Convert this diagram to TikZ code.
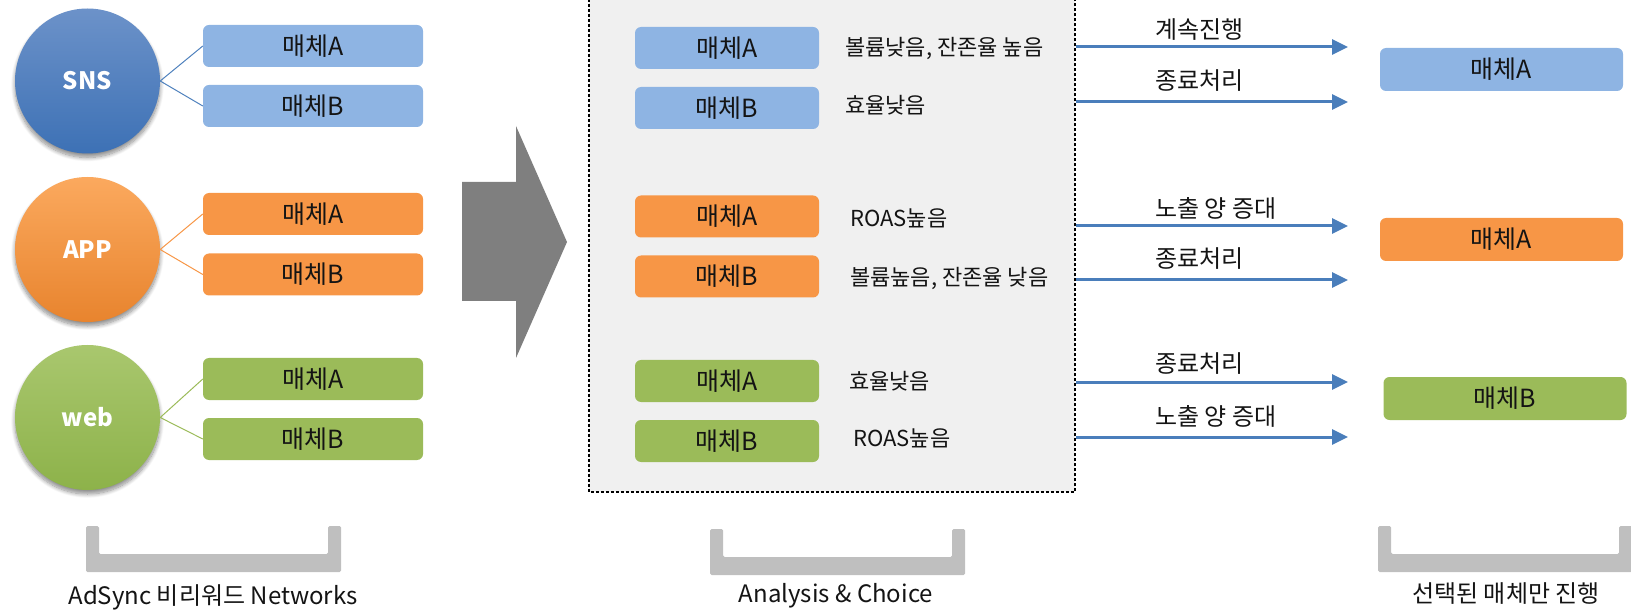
\documentclass[tikz,border=0pt]{standalone}
\usepackage{fontspec}
\setmainfont{Noto Sans CJK KR}
\usetikzlibrary{shadows.blur, arrows.meta}
\definecolor{snsline}{HTML}{4F81BD}
\definecolor{snsbox}{HTML}{8EB4E3}
\definecolor{snstop}{HTML}{6C92C9}
\definecolor{snsbot}{HTML}{3D71B5}
\definecolor{appbox}{HTML}{F79646}
\definecolor{apptop}{HTML}{FBA95E}
\definecolor{appbot}{HTML}{E8842E}
\definecolor{webbox}{HTML}{9BBB59}
\definecolor{webtop}{HTML}{A9C76E}
\definecolor{webbot}{HTML}{8DB24A}
\definecolor{panel}{HTML}{F0F0F0}
\definecolor{bracket}{HTML}{BFBFBF}
\definecolor{bigarrow}{HTML}{7F7F7F}
\definecolor{flow}{HTML}{4A7EBB}
\begin{document}
\begin{tikzpicture}[x=1pt,y=-1pt,
  txt/.style={font=\fontsize{22}{26}\selectfont, text=black!92, inner sep=0pt},
  atxt/.style={font=\fontsize{24}{28}\selectfont, text=black!92, inner sep=0pt},
  box/.style={rounded corners=6pt, minimum height=42pt, inner sep=0pt, font=\fontsize{25}{29}\selectfont, text=black!92},
  lbox/.style={box, minimum width=220pt},
  mbox/.style={box, minimum width=184pt},
  rbox/.style={box, minimum width=243pt, minimum height=43pt},
  circ/.style={circle, minimum size=145pt, inner sep=0pt, font=\bfseries\fontsize{24}{28}\selectfont, text=white,
    blur shadow={shadow xshift=0pt, shadow yshift=-4pt, shadow blur radius=4pt, shadow blur steps=10, shadow opacity=45}},
  lbl/.style={font=\fontsize{24}{28}\selectfont, text=black!92, inner sep=0pt},
  flowarrow/.style={draw=flow, line width=3pt, -{Triangle[length=16pt,width=15pt]}},
  brk/.style={fill=bracket, rounded corners=1.5pt}
]
\useasboundingbox (0,0) rectangle (1631,612);

% circles
\node[circ, top color=snstop, bottom color=snsbot] (sns) at (87.5,81) {SNS};
\node[circ, top color=apptop, bottom color=appbot] (app) at (87.5,249.5) {APP};
\node[circ, top color=webtop, bottom color=webbot] (web) at (87.5,417.5) {web};

% left boxes
\node[lbox, fill=snsbox] (snsA) at (313,46) {매체A};
\node[lbox, fill=snsbox] (snsB) at (313,106) {매체B};
\node[lbox, fill=appbox] (appA) at (313,214) {매체A};
\node[lbox, fill=appbox] (appB) at (313,274.5) {매체B};
\node[lbox, fill=webbox] (webA) at (313,379) {매체A};
\node[lbox, fill=webbox] (webB) at (313,439) {매체B};

\draw[snsline, line width=1pt] (snsA.west) -- (sns.east) -- (snsB.west);
\draw[appbox, line width=1pt] (appA.west) -- (app.east) -- (appB.west);
\draw[webbox, line width=1pt] (webA.west) -- (web.east) -- (webB.west);

% big arrow
\fill[bigarrow] (462,182) -- (516,182) -- (516,126) -- (567,242) -- (516,358) -- (516,301) -- (462,301) -- cycle;

% panel
\draw[fill=panel, line width=2.6pt, dash pattern=on 2.6pt off 2.4pt] (589,-6) rectangle (1075,492);

% middle boxes
\node[mbox, fill=snsbox] (mA1) at (727,48) {매체A};
\node[mbox, fill=snsbox] (mB1) at (727,108) {매체B};
\node[mbox, fill=appbox] (mA2) at (727,216.5) {매체A};
\node[mbox, fill=appbox] (mB2) at (727,276.5) {매체B};
\node[mbox, fill=webbox] (mA3) at (727,381) {매체A};
\node[mbox, fill=webbox] (mB3) at (727,441) {매체B};

\node[txt, anchor=west] (t1) at (845,48) {볼륨낮음, 잔존율 높음};
\node[txt, anchor=west] (t2) at (845,105) {효율낮음};
\node[txt, anchor=west] (t3) at (850,218) {ROAS높음};
\node[txt, anchor=west] (t4) at (850,278) {볼륨높음, 잔존율 낮음};
\node[txt, anchor=west] (t5) at (849,381) {효율낮음};
\node[txt, anchor=west] (t6) at (853,438) {ROAS높음};

% arrows
\foreach \i/\y in {1/47,2/102,3/226,4/280,5/382,6/437}{
  \coordinate (s\i) at (1076,\y);
  \coordinate (e\i) at (1348,\y);
}
\draw[flowarrow] (s1) -- (e1);
\draw[flowarrow] (s2) -- (e2);
\draw[flowarrow] (s3) -- (e3);
\draw[flowarrow] (s4) -- (e4);
\draw[flowarrow] (s5) -- (e5);
\draw[flowarrow] (s6) -- (e6);

\node[atxt, anchor=west] (a1) at (1155,30) {계속진행};
\node[atxt, anchor=west] (a2) at (1155,81) {종료처리};
\node[atxt, anchor=west] (a3) at (1155,208) {노출 양 증대};
\node[atxt, anchor=west] (a4) at (1155,259) {종료처리};
\node[atxt, anchor=west] (a5) at (1155,364) {종료처리};
\node[atxt, anchor=west] (a6) at (1155,416) {노출 양 증대};

% right boxes
\node[rbox, fill=snsbox] (rA1) at (1501.5,69.5) {매체A};
\node[rbox, fill=appbox] (rA2) at (1501.5,239.5) {매체A};
\node[rbox, fill=webbox] (rB3) at (1505,398.5) {매체B};

% brackets
\fill[brk] (86,526) -- (86,572) -- (341,572) -- (341,526) -- (328,526) -- (328,554) -- (99,554) -- (99,526) -- cycle;
\fill[brk] (710,529) -- (710,575) -- (965,575) -- (965,529) -- (952,529) -- (952,557) -- (723,557) -- (723,529) -- cycle;
\fill[brk] (1378,526) -- (1378,572) -- (1632,572) -- (1632,526) -- (1619,526) -- (1619,554) -- (1391,554) -- (1391,526) -- cycle;

\node[lbl] (l1) at (213,597) {AdSync 비리워드 Networks};
\node[lbl] (l2) at (836,596) {Analysis \& Choice};
\node[lbl] (l3) at (1506,594) {선택된 매체만 진행};
\end{tikzpicture}
\end{document}
